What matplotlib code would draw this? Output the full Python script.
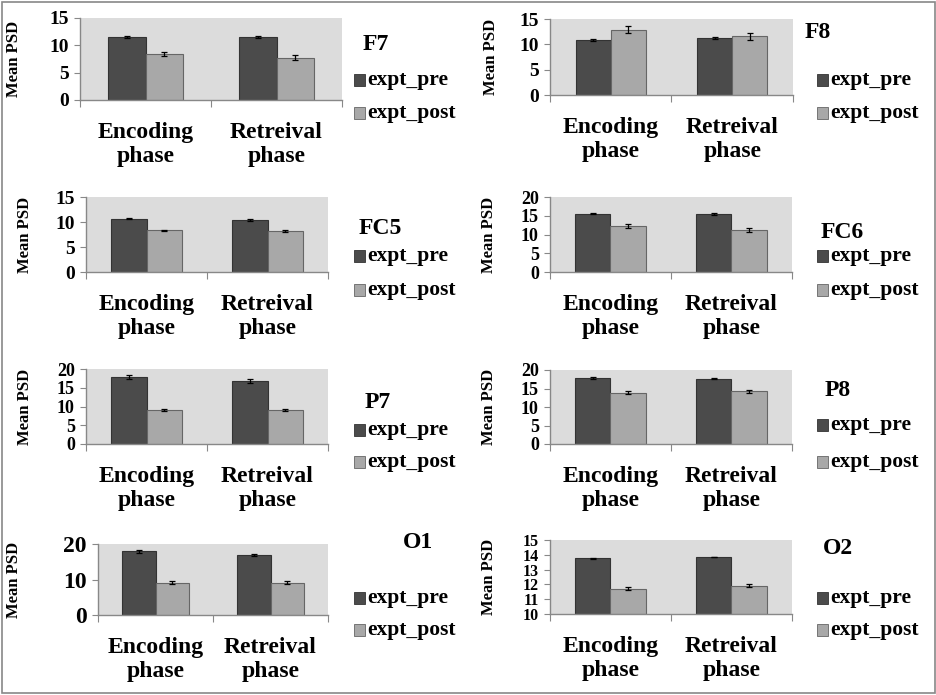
import numpy as np
import matplotlib
matplotlib.use("Agg")
import matplotlib.pyplot as plt
from matplotlib.patches import Rectangle

plt.rcParams['font.family'] = ['Liberation Serif', 'DejaVu Serif']
plt.rcParams['font.weight'] = 'bold'

phases = ["Encoding\nphase", "Retreival\nphase"]
series = ["expt_pre", "expt_post"]
channels = ["F7", "F8", "FC5", "FC6", "P7", "P8", "O1", "O2"]

# mean PSD per channel: [encoding, retrieval]
pre_vals = {
    "F7": [11.5, 11.5], "F8": [10.8, 11.2], "FC5": [10.7, 10.4], "FC6": [15.6, 15.5],
    "P7": [17.8, 16.8], "P8": [17.9, 17.7], "O1": [17.9, 16.9], "O2": [13.78, 13.85],
}
post_vals = {
    "F7": [8.4, 7.7], "F8": [12.9, 11.6], "FC5": [8.4, 8.3], "FC6": [12.2, 11.3],
    "P7": [9.1, 9.1], "P8": [13.9, 14.2], "O1": [9.1, 9.1], "O2": [11.7, 11.92],
}
pre_err = {
    "F7": [0.15, 0.15], "F8": [0.2, 0.2], "FC5": [0.15, 0.15], "FC6": [0.2, 0.2],
    "P7": [0.5, 0.5], "P8": [0.2, 0.2], "O1": [0.4, 0.4], "O2": [0.03, 0.03],
}
post_err = {
    "F7": [0.35, 0.45], "F8": [0.7, 0.7], "FC5": [0.1, 0.2], "FC6": [0.5, 0.55],
    "P7": [0.25, 0.25], "P8": [0.3, 0.3], "O1": [0.5, 0.5], "O2": [0.1, 0.1],
}
ylims = {"F7": (0, 15), "F8": (0, 15), "FC5": (0, 15), "FC6": (0, 20),
         "P7": (0, 20), "P8": (0, 20), "O1": (0, 20), "O2": (10, 15)}
ystep = {"F7": 5, "F8": 5, "FC5": 5, "FC6": 5, "P7": 5, "P8": 5, "O1": 10, "O2": 1}
ytick_size = {"F7": 14, "F8": 14, "FC5": 14, "FC6": 13, "P7": 13, "P8": 13, "O1": 17, "O2": 11.5}

# pixel layout: axes box (x0, x1, y0, y1), title (x, y), legend (x, y_pre, y_post), ylabel x
layout = {
    "F7": ((80, 342, 18, 100), (376, 45), (354, 80, 113), 22),
    "F8": ((550, 793, 19, 95), (818, 33), (817, 80, 113), 499),
    "FC5": ((86, 328, 197, 272), (380, 228), (354, 256, 290), 33),
    "FC6": ((550, 792, 197, 272), (842, 233), (817, 256, 290), 497),
    "P7": ((86, 328, 369, 444), (378, 403), (354, 430, 462), 33),
    "P8": ((550, 792, 370, 444), (838, 391), (817, 425, 462), 497),
    "O1": ((98, 328, 544, 615), (418, 542), (354, 598, 630), 22),
    "O2": ((550, 792, 540, 614), (838, 548), (817, 598, 630), 497),
}

W, H = 937, 695
pre_color = "#4b4b4b"
post_color = "#a8a8a8"
bg_color = "#dcdcdc"

fig = plt.figure(figsize=(W / 100, H / 100), dpi=100)
fig.patch.set_facecolor("white")
fig.patches.append(Rectangle((2 / W, 2 / H), 1 - 4 / W, 1 - 4 / H, transform=fig.transFigure,
                             fill=False, edgecolor="#888888", linewidth=1.2))

x = np.arange(len(phases))
bw = 0.29
for ch in channels:
    (x0, x1, y0, y1), (tx, ty), (lx, lp, lq), ylx = layout[ch]
    ax = fig.add_axes([x0 / W, 1 - y1 / H, (x1 - x0) / W, (y1 - y0) / H])
    ax.set_facecolor(bg_color)
    lo, hi = ylims[ch]
    ax.bar(x - bw / 2, np.array(pre_vals[ch]) - lo, bw, bottom=lo, color=pre_color,
           edgecolor="#333333", linewidth=0.8, yerr=pre_err[ch], capsize=2.5,
           error_kw=dict(elinewidth=0.9, capthick=0.9, ecolor="black"))
    ax.bar(x + bw / 2, np.array(post_vals[ch]) - lo, bw, bottom=lo, color=post_color,
           edgecolor="#666666", linewidth=0.8, yerr=post_err[ch], capsize=2.5,
           error_kw=dict(elinewidth=0.9, capthick=0.9, ecolor="black"))
    ax.set_xlim(-0.5, 1.5)
    ax.set_ylim(lo, hi)
    ax.set_yticks(np.arange(lo, hi + 0.01, ystep[ch]))
    ax.set_xticks([-0.5, 0.5, 1.5])
    ax.set_xticklabels([])
    ax.set_xticks(x, minor=True)
    ax.set_xticklabels(phases, minor=True, fontsize=17, fontweight="bold", linespacing=1.2)
    ax.tick_params(axis="x", which="minor", length=0, pad=16)
    ax.tick_params(axis="x", which="major", length=5, color="#888888", direction="out")
    ax.tick_params(axis="y", length=4, color="#888888", labelsize=ytick_size[ch], pad=4)
    for lab in ax.get_yticklabels():
        lab.set_fontweight("bold")
    for s in ["top", "right"]:
        ax.spines[s].set_visible(False)
    for s in ["left", "bottom"]:
        ax.spines[s].set_color("#888888")
        ax.spines[s].set_linewidth(1.0)
    ax.set_ylabel("Mean PSD", fontsize=12, fontweight="bold")
    ax.yaxis.set_label_coords((ylx - x0) / (x1 - x0), 0.5)

    fig.text(tx / W, 1 - ty / H, ch, fontsize=17, fontweight="bold", ha="center", va="center")
    for yy, name, col, ec in [(lp, series[0], pre_color, "#333333"), (lq, series[1], post_color, "#666666")]:
        fig.patches.append(Rectangle((lx / W, 1 - (yy + 6) / H), 11 / W, 12 / H,
                                     transform=fig.transFigure, facecolor=col, edgecolor=ec, linewidth=0.6))
        fig.text((lx + 13) / W, 1 - yy / H, name, fontsize=15.5, fontweight="bold", ha="left", va="center")

fig.savefig("out.png", dpi=100)
